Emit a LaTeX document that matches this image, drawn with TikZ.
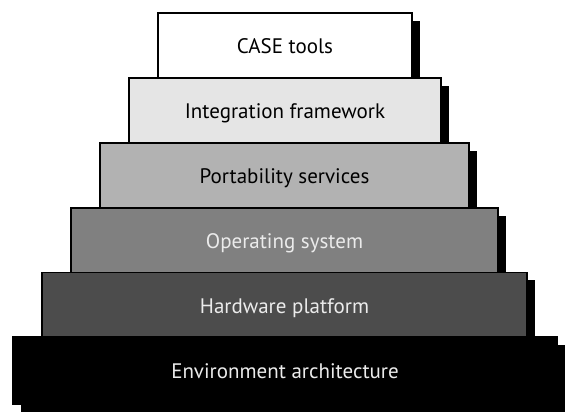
\documentclass[tikz,border=0pt]{standalone}
\usepackage{fontspec}
\setmainfont{PT Sans}
\usetikzlibrary{shadows}

\begin{document}
\begin{tikzpicture}[
    x=1pt, y=1pt,
    layer/.style={draw=black, line width=1.2pt, minimum height=65pt,
        outer sep=0pt, inner sep=0pt, text height=17pt, text depth=0pt,
        font=\fontsize{21}{25}\selectfont,
        drop shadow={shadow xshift=8pt, shadow yshift=-8pt,
        fill=black, opacity=1}},
    light layer/.style={layer, text=black},
    dark layer/.style={layer, text=white!92!black}
    ]
    \useasboundingbox (0,0) rectangle (573,-419);
    % layers, top to bottom
    \node[light layer, fill=white, minimum width=254pt]
        (case) at (285,-45.5) {CASE tools};
    \node[light layer, fill=black!10, minimum width=312pt]
        (integration) at (285,-110.5) {Integration framework};
    \node[light layer, fill=black!30, minimum width=369pt]
        (portability) at (284.5,-175.5) {Portability services};
    \node[dark layer, fill=black!50, minimum width=427pt]
        (os) at (284.5,-240.5) {Operating system};
    \node[dark layer, fill=black!70, minimum width=485pt]
        (hardware) at (284.5,-305) {Hardware platform};
    % base layer
    \node[dark layer, fill=black, minimum width=544pt, minimum height=67pt]
        (environment) at (285,-370.5) {Environment architecture};
\end{tikzpicture}
\end{document}
